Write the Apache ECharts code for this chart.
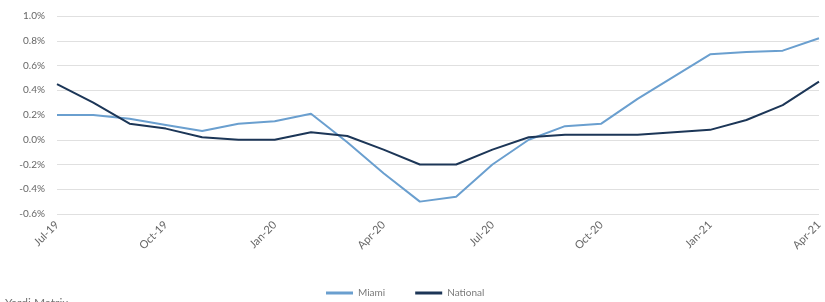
<!DOCTYPE html>
<html>
<head>
<meta charset="utf-8">
<script src="https://cdn.jsdelivr.net/npm/echarts@6/dist/echarts.min.js"></script>
<style>
  html, body { margin: 0; padding: 0; background: #fff; }
  #chart { width: 825px; height: 302px; }
</style>
</head>
<body>
<div id="chart"></div>
<script>
var months = ['Jul-19','Aug-19','Sep-19','Oct-19','Nov-19','Dec-19','Jan-20','Feb-20','Mar-20','Apr-20','May-20','Jun-20',
    'Jul-20','Aug-20','Sep-20','Oct-20','Nov-20','Dec-20','Jan-21','Feb-21','Mar-21','Apr-21'];

var miami = [0.20, 0.20, 0.17, 0.12, 0.07, 0.13, 0.15, 0.21, -0.02, -0.27, -0.50, -0.46,
    -0.20, 0.00, 0.11, 0.13, 0.33, 0.51, 0.69, 0.71, 0.72, 0.82];

var national = [0.45, 0.30, 0.13, 0.09, 0.02, 0.00, 0.00, 0.06, 0.03, -0.08, -0.20, -0.20,
    -0.08, 0.02, 0.04, 0.04, 0.04, 0.06, 0.08, 0.16, 0.28, 0.47];

var chart = echarts.init(document.getElementById('chart'));
chart.setOption({
    animation: false,
    grid: { left: 57, right: 3, top: 16, bottom: 88 },
    legend: {
        bottom: -1,
        left: 321,
        itemWidth: 27,
        itemHeight: 3,
        itemGap: 30,
        icon: 'rect',
        textStyle: { color: '#7a7a7a', fontSize: 10, fontFamily: 'Lato' },
        data: ['Miami', 'National']
    },
    graphic: [{
        type: 'text',
        left: 5,
        top: 297,
        style: { text: 'Yardi Matrix', fill: '#777', font: '12px Lato' }
    }],
    xAxis: {
        type: 'category',
        data: months,
        boundaryGap: false,
        axisLine: { show: false },
        axisTick: { show: false },
        axisLabel: {
            interval: 2,
            rotate: 45,
            color: '#666',
            fontSize: 11,
            fontFamily: 'Lato',
            margin: 9
        }
    },
    yAxis: {
        type: 'value',
        min: -0.6,
        max: 1.0,
        interval: 0.2,
        axisLine: { show: false },
        axisTick: { show: false },
        splitLine: { lineStyle: { color: '#e0e0e0', width: 1 } },
        axisLabel: {
            color: '#666',
            fontSize: 10,
            fontFamily: 'Lato',
            margin: 12,
            formatter: function (v) { return v.toFixed(1) + '%'; }
        }
    },
    series: [
        {
            name: 'Miami',
            type: 'line',
            data: miami,
            symbol: 'none',
            itemStyle: { color: '#6a9fcf' },
            lineStyle: { color: '#6a9fcf', width: 2 }
        },
        {
            name: 'National',
            type: 'line',
            data: national,
            symbol: 'none',
            itemStyle: { color: '#1c3657' },
            lineStyle: { color: '#1c3657', width: 2 }
        }
    ]
});
</script>
</body>
</html>
